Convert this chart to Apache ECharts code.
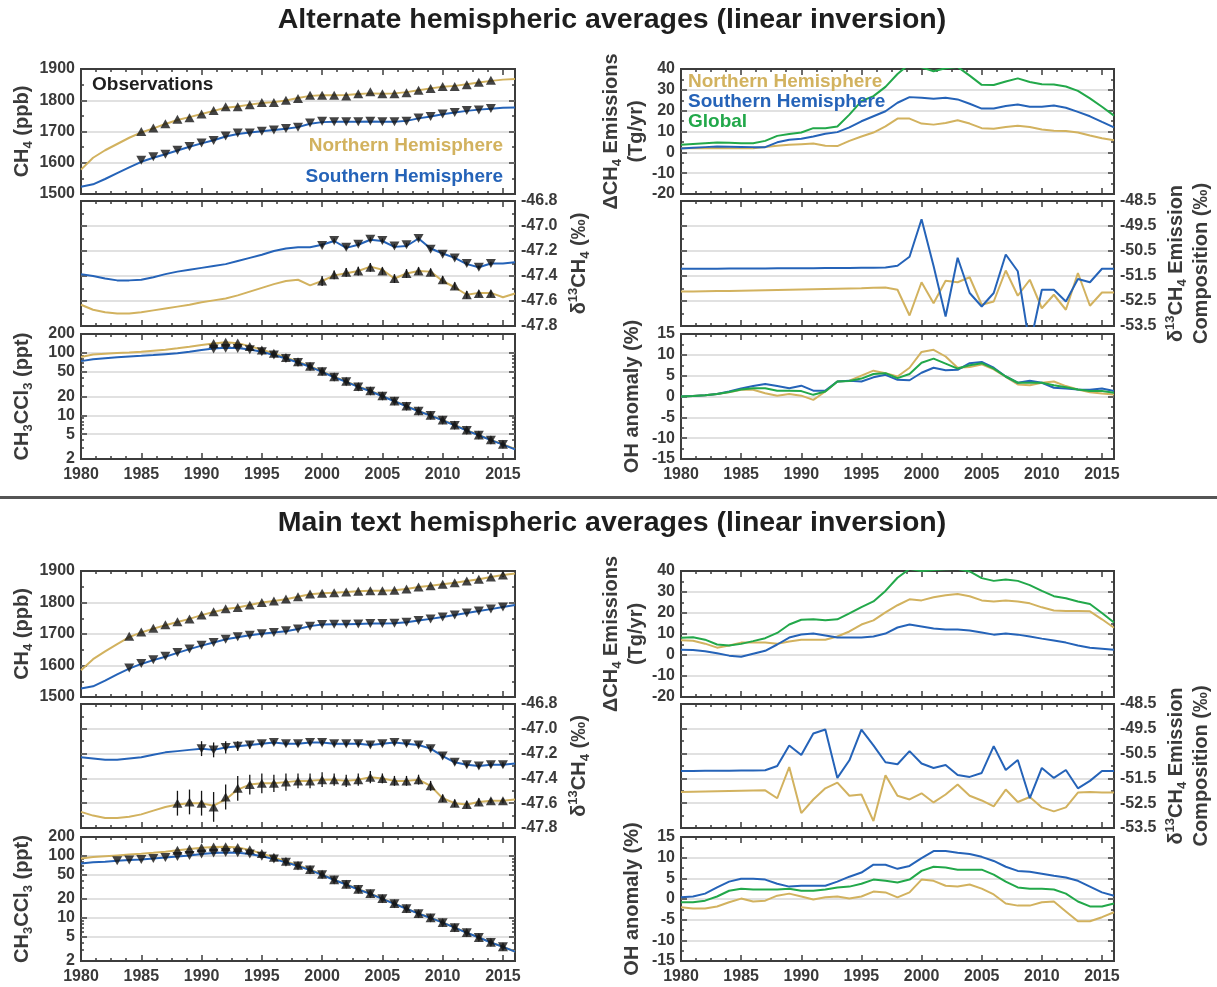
<!DOCTYPE html>
<html>
<head>
<meta charset="utf-8">
<script src="https://cdn.jsdelivr.net/npm/echarts@6/dist/echarts.min.js"></script>
<style>
html,body{margin:0;padding:0;background:#fff}
#chart{width:1217px;height:987px}
</style>
</head>
<body>
<div id="chart"></div>
<script>
// ---------- data ----------
const years = [1980,1981,1982,1983,1984,1985,1986,1987,1988,1989,1990,1991,1992,1993,1994,1995,1996,1997,1998,1999,2000,2001,2002,2003,2004,2005,2006,2007,2008,2009,2010,2011,2012,2013,2014,2015,2016];

// Alternate hemispheric averages
const altCh4NH = [1578,1616,1640,1660,1680,1697,1710,1724,1737,1746,1756,1766,1776,1780,1786,1791,1794,1799,1807,1814,1816,1816,1817,1820,1822,1821,1822,1826,1832,1838,1843,1846,1851,1857,1862,1866,1868];
const altCh4SH = [1523,1531,1548,1567,1585,1603,1616,1627,1639,1651,1662,1672,1684,1692,1697,1701,1705,1709,1714,1725,1730,1731,1731,1731,1732,1731,1731,1734,1742,1748,1755,1761,1766,1770,1773,1776,1777];
const altCh4ObsStart = 1985;
const altCh4NHObs = [1700,1711,1725,1739,1744,1756,1767,1779,1779,1786,1793,1793,1800,1806,1816,1816,1816,1814,1821,1827,1821,1821,1824,1832,1838,1844,1844,1850,1858,1864];
const altCh4SHObs = [1608,1619,1627,1640,1652,1663,1671,1686,1695,1695,1701,1705,1710,1714,1727,1733,1731,1731,1731,1733,1731,1731,1733,1743,1748,1756,1761,1767,1769,1774];

const altD13NH = [-47.63,-47.67,-47.69,-47.70,-47.70,-47.69,-47.675,-47.66,-47.645,-47.63,-47.61,-47.595,-47.58,-47.555,-47.525,-47.495,-47.465,-47.44,-47.43,-47.475,-47.44,-47.395,-47.378,-47.36,-47.325,-47.35,-47.42,-47.38,-47.36,-47.365,-47.44,-47.49,-47.55,-47.535,-47.535,-47.57,-47.54];
const altD13SH = [-47.386,-47.40,-47.42,-47.435,-47.435,-47.43,-47.41,-47.385,-47.365,-47.35,-47.335,-47.32,-47.305,-47.28,-47.255,-47.23,-47.20,-47.18,-47.17,-47.17,-47.15,-47.12,-47.175,-47.15,-47.11,-47.12,-47.167,-47.16,-47.10,-47.18,-47.22,-47.255,-47.305,-47.33,-47.30,-47.30,-47.29];
const altD13ObsStart = 2000;
const altD13NHObs = [-47.44,-47.39,-47.37,-47.36,-47.33,-47.36,-47.42,-47.38,-47.36,-47.37,-47.43,-47.48,-47.55,-47.54,-47.54];
const altD13NHErr = [0.04,0.035,0.035,0.035,0.035,0.03,0.035,0.035,0.03,0.03,0.03,0.03,0.03,0.025,0.025];
const altD13SHObs = [-47.155,-47.115,-47.17,-47.145,-47.105,-47.115,-47.16,-47.15,-47.10,-47.185,-47.225,-47.255,-47.30,-47.33,-47.30];
const altD13SHErr = [0.015,0.015,0.015,0.015,0.015,0.015,0.015,0.015,0.015,0.015,0.015,0.015,0.015,0.015,0.015];

const altMcfNH = [86,94,97,99,101,104,108,112,118,125,133,141,147,142,128,112,98,84.5,72,61,50.5,41.5,35,29,24.7,20.5,17.0,14.1,11.8,10.0,8.4,7.0,5.8,4.85,4.05,3.45,2.9];
const altMcfSH = [73.6,79,82,85,87.5,89.6,92,95,98,104,111,117,120,119,113,104,92,81,70,59.7,49.6,40.7,34.3,28.5,24.3,20.2,16.8,13.9,11.6,9.9,8.3,6.9,5.7,4.8,4.0,3.4,2.85];
const altMcfObsStart = 1991;
const altMcfNHObs = [141,147,143,126,111,98,84.5,72,61,50.5,41.5,35,29,24.7,20.5,17.0,14.1,11.8,10.0,8.4,7.0,5.8,4.85,4.05,3.45];
const altMcfSHObs = [115,118,117,112,104,92,81,70,59.7,49.6,40.7,34.3,28.5,24.3,20.2,16.8,13.9,11.6,9.9,8.3,6.9,5.7,4.8,4.0,3.4];

const altEmisNH = [2.0,2.0,2.0,2.1,2.0,1.9,2.0,2.6,3.2,3.6,3.9,4.2,3.2,3.0,5.5,7.6,9.5,12.5,16.2,16.2,13.8,13.3,14.1,15.4,13.8,11.6,11.3,12.2,12.8,12.2,11.0,10.4,10.2,9.5,8.1,6.8,5.8];
const altEmisSH = [1.8,2.2,2.5,2.8,2.7,2.6,2.5,2.5,4.8,6.0,6.5,7.6,8.9,9.7,12.0,14.9,17.3,19.7,23.8,26.5,26.2,25.7,26.2,25.4,23.3,21.0,21.0,22.2,23.0,21.9,21.9,22.5,21.4,19.4,17.3,14.6,12.0];
const altEmisGL = [3.6,4.0,4.4,4.7,4.6,4.4,4.4,5.5,7.9,8.8,9.5,11.6,11.6,12.4,18.1,24.6,27.0,31.4,37.6,42.5,40.8,38.9,40.4,41.0,36.8,32.4,32.3,34.0,35.5,33.8,32.7,32.6,31.6,29.5,25.9,21.9,17.6];

const altIsoNH = [-52.12,-52.12,-52.11,-52.10,-52.10,-52.09,-52.08,-52.07,-52.06,-52.05,-52.04,-52.03,-52.02,-52.01,-52.00,-51.99,-51.97,-51.96,-52.05,-53.08,-51.75,-52.59,-51.69,-51.75,-51.55,-52.65,-52.52,-51.28,-52.29,-51.65,-52.79,-52.25,-52.85,-51.38,-52.69,-52.16,-52.16];
const altIsoSH = [-51.21,-51.21,-51.21,-51.21,-51.20,-51.20,-51.20,-51.20,-51.19,-51.19,-51.19,-51.19,-51.18,-51.18,-51.18,-51.17,-51.17,-51.16,-51.09,-50.73,-49.23,-51.10,-53.12,-50.77,-52.18,-52.72,-52.18,-50.64,-51.31,-54.30,-52.05,-52.05,-52.52,-51.62,-51.75,-51.21,-51.21];

const altOHNH = [0.0,0.1,0.3,0.6,1.0,1.6,1.6,0.8,0.2,0.6,0.2,-0.8,1.2,3.6,3.8,5.0,6.2,5.6,4.8,6.9,10.7,11.2,9.6,6.9,7.1,7.7,6.5,4.7,2.9,2.7,3.3,3.6,2.5,1.7,1.0,0.7,0.5];
const altOHSH = [0.0,0.1,0.3,0.6,1.2,1.9,2.5,3.0,2.5,2.0,2.6,1.4,1.4,3.6,3.8,3.6,4.6,5.2,4.0,3.9,5.7,6.9,6.3,6.4,8.0,8.3,6.9,4.8,3.3,3.8,3.3,2.1,1.9,1.7,1.6,1.9,1.3];
const altOHGL = [0.0,0.1,0.3,0.6,1.1,1.7,2.0,2.0,1.4,1.4,1.3,0.4,1.2,3.6,3.7,4.3,5.4,5.6,4.4,5.4,8.1,9.1,7.9,6.7,7.5,8.0,6.7,4.8,3.3,3.3,3.3,2.7,2.2,1.7,1.3,1.3,0.9];

// Main text hemispheric averages
const mainCh4NH = [1585,1620,1645,1668,1690,1705,1717,1728,1738,1748,1760,1770,1779,1784,1792,1800,1805,1810,1818,1826,1829,1831,1833,1836,1837,1837,1839,1843,1849,1853,1858,1863,1868,1874,1881,1887,1892];
const mainCh4SH = [1527,1534,1552,1572,1590,1605,1617,1628,1640,1652,1663,1673,1683,1690,1696,1701,1705,1709,1716,1725,1730,1731,1731,1732,1733,1733,1734,1737,1743,1748,1754,1760,1767,1773,1779,1786,1792];
const mainCh4ObsStart = 1984;
const mainCh4NHObs = [1693,1706,1718,1729,1739,1748,1760,1771,1780,1784,1792,1800,1805,1811,1818,1827,1829,1831,1833,1836,1837,1837,1839,1843,1849,1853,1858,1863,1868,1874,1881,1887];
const mainCh4SHObs = [1592,1606,1618,1629,1641,1652,1664,1673,1683,1691,1696,1701,1705,1710,1716,1725,1730,1731,1731,1732,1733,1733,1734,1737,1743,1748,1754,1760,1767,1773,1779,1786];

const mainD13NH = [-47.67,-47.70,-47.72,-47.72,-47.71,-47.69,-47.66,-47.63,-47.61,-47.60,-47.60,-47.62,-47.57,-47.49,-47.45,-47.44,-47.44,-47.43,-47.42,-47.42,-47.41,-47.41,-47.42,-47.41,-47.39,-47.40,-47.42,-47.42,-47.41,-47.46,-47.56,-47.60,-47.61,-47.59,-47.58,-47.58,-47.57];
const mainD13SH = [-47.23,-47.24,-47.25,-47.25,-47.24,-47.23,-47.21,-47.19,-47.18,-47.17,-47.16,-47.17,-47.15,-47.14,-47.13,-47.12,-47.11,-47.12,-47.12,-47.11,-47.11,-47.12,-47.12,-47.12,-47.13,-47.12,-47.11,-47.12,-47.13,-47.16,-47.22,-47.27,-47.29,-47.30,-47.29,-47.29,-47.28];
const mainD13NHObsStart = 1988;
const mainD13NHObs = [-47.60,-47.59,-47.60,-47.63,-47.55,-47.48,-47.45,-47.44,-47.44,-47.43,-47.42,-47.42,-47.41,-47.41,-47.42,-47.41,-47.39,-47.40,-47.42,-47.42,-47.41,-47.46,-47.56,-47.60,-47.61,-47.59,-47.58,-47.58];
const mainD13NHErr = [0.1,0.1,0.1,0.12,0.1,0.1,0.08,0.08,0.07,0.07,0.06,0.06,0.06,0.05,0.05,0.05,0.05,0.04,0.04,0.04,0.04,0.04,0.03,0.03,0.03,0.03,0.02,0.02];
const mainD13SHObsStart = 1990;
const mainD13SHObs = [-47.16,-47.17,-47.15,-47.14,-47.13,-47.12,-47.11,-47.12,-47.12,-47.11,-47.11,-47.12,-47.12,-47.12,-47.13,-47.12,-47.11,-47.12,-47.13,-47.16,-47.22,-47.27,-47.29,-47.30,-47.29,-47.29];
const mainD13SHErr = [0.06,0.06,0.05,0.04,0.03,0.02,0.02,0.02,0.02,0.02,0.02,0.02,0.02,0.02,0.02,0.02,0.02,0.02,0.02,0.02,0.02,0.02,0.02,0.02,0.02,0.02];

const mainMcfNH = [90,95,98,101,104,107,111,116,122,128,134,138,139,135,124,108,94,81,70,60,50,41,34.6,28.8,24.5,20.3,16.9,14.0,11.7,9.95,8.35,6.95,5.75,4.8,4.0,3.4,2.85];
const mainMcfSH = [75,78,80,83,85,87,90,93,97,101,106,110,112,111,106,98,88,78,68,58.5,49,40.5,34.2,28.5,24.2,20.1,16.7,13.9,11.6,9.9,8.3,6.9,5.7,4.78,3.98,3.38,2.83];
const mainMcfNHObsStart = 1988;
const mainMcfNHObs = [122,128,134,138,139,135,124,108,94,81,70,60,50,41,34.6,28.8,24.5,20.3,16.9,14.0,11.7,9.95,8.35,6.95,5.75,4.8,4.0,3.4];
const mainMcfSHObsStart = 1983;
const mainMcfSHObs = [83,85,87,90,93,97,101,106,110,112,111,106,98,88,78,68,58.5,49,40.5,34.2,28.5,24.2,20.1,16.7,13.9,11.6,9.9,8.3,6.9,5.7,4.78,3.98,3.38];

const mainEmisNH = [7.0,6.8,5.4,3.5,4.5,5.9,5.9,5.9,5.4,6.4,7.3,7.3,7.3,8.8,11.2,14.5,16.5,20.3,23.7,26.5,26.0,27.5,28.4,29.0,28.0,26.0,25.5,26.0,25.5,24.6,22.7,21.2,21.0,21.0,20.8,17.0,13.0];
const mainEmisSH = [2.5,2.4,1.8,0.8,-0.3,-0.8,0.6,2.0,5.0,8.3,9.8,10.2,9.3,8.3,8.3,8.3,8.8,10.2,13.1,14.5,13.6,12.6,12.1,12.1,11.7,10.7,9.7,10.2,9.7,8.8,7.8,6.9,5.9,4.5,3.5,3.0,2.5];
const mainEmisGL = [8.2,8.5,7.3,5.0,4.5,5.3,6.6,8.0,10.5,14.5,16.8,17.0,16.5,17.0,19.8,22.8,25.5,30.5,36.8,41.0,40.0,40.5,40.8,41.0,39.8,36.6,35.3,36.0,35.3,33.3,30.5,28.0,27.0,25.5,24.3,20.0,15.5];

const mainIsoNH = [-52.05,-52.04,-52.03,-52.02,-52.01,-52.00,-51.99,-51.98,-52.3,-51.04,-52.9,-52.35,-51.9,-51.67,-52.2,-52.15,-53.22,-51.37,-52.2,-52.35,-52.1,-52.47,-52.15,-51.75,-52.2,-52.39,-52.63,-51.95,-52.45,-52.25,-52.67,-52.83,-52.67,-52.07,-52.05,-52.07,-52.07];
const mainIsoSH = [-51.20,-51.20,-51.19,-51.19,-51.19,-51.18,-51.18,-51.17,-51.0,-50.17,-50.56,-49.69,-49.53,-51.48,-50.77,-49.53,-50.17,-50.85,-50.93,-50.4,-50.9,-51.08,-50.96,-51.36,-51.44,-51.28,-50.2,-51.16,-50.76,-52.3,-51.08,-51.48,-51.16,-51.9,-51.6,-51.2,-51.2];

const mainOHNH = [-2.0,-2.3,-2.3,-1.8,-0.8,0.1,-0.6,-0.4,0.8,1.3,0.6,-0.1,0.4,0.6,0.1,0.6,1.8,1.6,0.4,1.6,4.7,4.4,3.2,3.0,3.5,2.5,1.1,-1.1,-1.6,-1.6,-0.8,-0.6,-3.0,-5.4,-5.4,-4.4,-3.2];
const mainOHSH = [0.4,0.6,1.3,2.8,4.2,4.9,4.9,4.7,3.7,3.0,3.2,3.2,3.2,4.2,5.4,6.4,8.3,8.3,7.3,8.0,9.9,11.6,11.6,11.2,10.9,10.2,9.2,7.8,6.8,6.6,6.1,5.6,5.2,4.4,3.0,1.6,0.8];
const mainOHGL = [-0.8,-0.8,-0.4,0.6,2.0,2.5,2.3,2.3,2.3,2.5,2.0,2.0,2.3,2.8,3.0,3.7,4.7,4.4,4.0,4.7,6.8,7.8,7.6,7.1,7.1,7.1,5.9,4.2,2.8,2.5,2.5,2.3,1.3,-0.6,-1.8,-1.8,-1.1];

// tick labels
const xTickLabels = [1980,1985,1990,1995,2000,2005,2010,2015];
const ch4Ticks = [1500,1600,1700,1800,1900];
const d13Ticks = [-47.8,-47.6,-47.4,-47.2,-47.0,-46.8];
const mcfTicks = [2,5,10,20,50,100,200];
const emisTicks = [-20,-10,0,10,20,30,40];
const isoTicks = [-53.5,-52.5,-51.5,-50.5,-49.5,-48.5];
const ohTicks = [-15,-10,-5,0,5,10,15];

// ---------- styling ----------
const FONT = '"Liberation Sans", Arial, Helvetica, sans-serif';
const INK = '#3a3a3a';
const FRAME = '#3c3c3c';
const GRIDLINE = '#e1e1e1';
const GOLD = '#D2B25F', BLUE = '#2563B8', GREEN = '#22A84A', MARK = '#141414';

const TICK_FONT = {fontSize: 16, fontWeight: 'bold', color: INK, fontFamily: FONT};
const NAME_STYLE = {
  fontSize: 20, fontWeight: 'bold', color: INK, fontFamily: FONT, lineHeight: 25,
  rich: {
    s: {fontSize: 13, fontWeight: 'bold', color: INK, fontFamily: FONT, lineHeight: 15, verticalAlign: 'bottom'},
    u: {fontSize: 13, fontWeight: 'bold', color: INK, fontFamily: FONT, lineHeight: 15, verticalAlign: 'top'}
  }
};

// minor tick positions: four subdivisions between labelled years
const xMinor = [];
for (let i = 0; i < xTickLabels.length; i++) {
  for (let k = 1; k < 4; k++) {
    const v = xTickLabels[i] + k * 1.25;
    if (v < 2016) xMinor.push(v);
  }
}
const midpoints = t => t.slice(1).map((v, i) => (v + t[i]) / 2);

const AX = {
  ch4:  {min: 1500, max: 1900, labels: ch4Ticks, minor: midpoints(ch4Ticks)},
  d13:  {min: -47.8, max: -46.8, labels: d13Ticks, minor: midpoints(d13Ticks), digits: 1},
  mcf:  {type: 'log', min: 2, max: 200, labels: mcfTicks, minor: [3,4,6,7,8,9,30,40,60,70,80,90]},
  emis: {min: -20, max: 40, labels: emisTicks, minor: midpoints(emisTicks)},
  iso:  {min: -53.5, max: -48.5, labels: isoTicks, minor: midpoints(isoTicks), digits: 1},
  oh:   {min: -15, max: 15, labels: ohTicks, minor: midpoints(ohTicks)}
};

const LEFT_COL = {left: 81, width: 434};
const RIGHT_COL = {left: 681, width: 433};
const ROWS = [
  {top: 69, height: 125}, {top: 201, height: 125}, {top: 334, height: 125},
  {top: 571, height: 126}, {top: 704, height: 124}, {top: 837, height: 124}
];

const option = {
  animation: false,
  backgroundColor: '#ffffff',
  textStyle: {fontFamily: FONT},
  grid: [], xAxis: [], yAxis: [], series: [], graphic: []
};

function ticks(vals, len) {
  return {show: true, inside: true, length: len, customValues: vals, lineStyle: {color: FRAME, width: 1.5}};
}

function addPanel(col, row, ax, side, showX, name, nameGap, seriesList) {
  const g = option.grid.length;
  const r = ROWS[row];
  option.grid.push({
    left: col.left, top: r.top, width: col.width, height: r.height,
    show: true, borderColor: FRAME, borderWidth: 2, backgroundColor: '#fff',
    containLabel: false, outerBoundsMode: 'none'
  });
  const xi = option.xAxis.length;
  const xCommon = {
    gridIndex: g, type: 'value', min: 1980, max: 2016,
    axisLine: {show: false, onZero: false}, splitLine: {show: false}, axisLabel: {show: false}
  };
  [['bottom', xTickLabels, 6], ['top', xTickLabels, 6], ['bottom', xMinor, 3], ['top', xMinor, 3]]
    .forEach(([pos, vals, len], k) => {
      const a = Object.assign({}, xCommon, {position: pos, axisTick: ticks(vals, len)});
      if (k === 0 && showX) {
        a.axisLabel = Object.assign({show: true, customValues: xTickLabels, margin: 8,
                                     formatter: v => String(Math.round(v))}, TICK_FONT);
      }
      option.xAxis.push(a);
    });
  const yi = option.yAxis.length;
  const other = side === 'left' ? 'right' : 'left';
  const yCommon = {
    gridIndex: g, type: ax.type || 'value', min: ax.min, max: ax.max,
    axisLine: {show: false, onZero: false}, splitLine: {show: false}, axisLabel: {show: false}
  };
  const inner = ax.labels.slice(1, -1);
  option.yAxis.push(Object.assign({}, yCommon, {
    position: side,
    axisTick: ticks(inner, 6),
    axisLabel: Object.assign({
      show: true, customValues: ax.labels, margin: 6,
      formatter: v => ax.digits ? Number(v).toFixed(ax.digits) : String(Math.round(v * 1000) / 1000)
    }, TICK_FONT),
    splitLine: {show: true, lineStyle: {color: GRIDLINE, width: 2}},
    name: name, nameLocation: 'middle', nameGap: nameGap, nameRotate: 90,
    nameMoveOverlap: false, nameTextStyle: NAME_STYLE
  }));
  option.yAxis.push(Object.assign({}, yCommon, {position: other, axisTick: ticks(inner, 6)}));
  option.yAxis.push(Object.assign({}, yCommon, {position: side, axisTick: ticks(ax.minor, 3)}));
  option.yAxis.push(Object.assign({}, yCommon, {position: other, axisTick: ticks(ax.minor, 3)}));
  seriesList.forEach(s => option.series.push(Object.assign(s, {xAxisIndex: xi, yAxisIndex: yi})));
}

function modelLine(vals, color) {
  return {
    type: 'line', data: years.map((y, i) => [y, vals[i]]), symbol: 'none', silent: true,
    lineStyle: {color: color, width: 2}, z: 2
  };
}
function obsMarks(start, vals, up) {
  return {
    type: 'scatter', data: vals.map((v, i) => [start + i, v]), silent: true,
    symbol: 'triangle', symbolSize: [10, 9], symbolRotate: up ? 0 : 180,
    itemStyle: {color: MARK}, z: 5
  };
}
function errBars(start, vals, errs) {
  return {
    type: 'custom', silent: true, z: 4,
    data: vals.map((v, i) => [start + i, v - errs[i], v + errs[i]]),
    encode: {x: 0, y: [1, 2]},
    renderItem: (params, api) => {
      const a = api.coord([api.value(0), api.value(1)]);
      const b = api.coord([api.value(0), api.value(2)]);
      return {type: 'line', shape: {x1: a[0], y1: a[1], x2: b[0], y2: b[1]},
              style: {stroke: MARK, lineWidth: 1.3}};
    }
  };
}

const CH4_NAME = 'CH{s|4} (ppb)';
const D13_NAME = 'δ{u|13}CH{s|4} (‰)';
const MCF_NAME = 'CH{s|3}CCl{s|3} (ppt)';
const EMIS_NAME = 'ΔCH{s|4} Emissions\n(Tg/yr)';
const ISO_NAME = 'δ{u|13}CH{s|4} Emission\nComposition (‰)';
const OH_NAME = 'OH anomaly (%)';

// ----- upper block: alternate averages -----
addPanel(LEFT_COL, 0, AX.ch4, 'left', false, CH4_NAME, 46, [
  modelLine(altCh4NH, GOLD), modelLine(altCh4SH, BLUE),
  obsMarks(altCh4ObsStart, altCh4NHObs, true), obsMarks(altCh4ObsStart, altCh4SHObs, false)
]);
addPanel(LEFT_COL, 1, AX.d13, 'right', false, D13_NAME, 52, [
  modelLine(altD13NH, GOLD), modelLine(altD13SH, BLUE),
  errBars(altD13ObsStart, altD13NHObs, altD13NHErr), errBars(altD13ObsStart, altD13SHObs, altD13SHErr),
  obsMarks(altD13ObsStart, altD13NHObs, true), obsMarks(altD13ObsStart, altD13SHObs, false)
]);
addPanel(LEFT_COL, 2, AX.mcf, 'left', true, MCF_NAME, 46, [
  modelLine(altMcfNH, GOLD), modelLine(altMcfSH, BLUE),
  obsMarks(altMcfObsStart, altMcfNHObs, true), obsMarks(altMcfObsStart, altMcfSHObs, false)
]);
addPanel(RIGHT_COL, 0, AX.emis, 'left', false, EMIS_NAME, 32, [
  modelLine(altEmisNH, GOLD), modelLine(altEmisSH, BLUE), modelLine(altEmisGL, GREEN)
]);
addPanel(RIGHT_COL, 1, AX.iso, 'right', false, ISO_NAME, 50, [
  modelLine(altIsoNH, GOLD), modelLine(altIsoSH, BLUE)
]);
addPanel(RIGHT_COL, 2, AX.oh, 'left', true, OH_NAME, 36, [
  modelLine(altOHNH, GOLD), modelLine(altOHSH, BLUE), modelLine(altOHGL, GREEN)
]);

// ----- lower block: main text averages -----
addPanel(LEFT_COL, 3, AX.ch4, 'left', false, CH4_NAME, 46, [
  modelLine(mainCh4NH, GOLD), modelLine(mainCh4SH, BLUE),
  obsMarks(mainCh4ObsStart, mainCh4NHObs, true), obsMarks(mainCh4ObsStart, mainCh4SHObs, false)
]);
addPanel(LEFT_COL, 4, AX.d13, 'right', false, D13_NAME, 52, [
  modelLine(mainD13NH, GOLD), modelLine(mainD13SH, BLUE),
  errBars(mainD13NHObsStart, mainD13NHObs, mainD13NHErr), errBars(mainD13SHObsStart, mainD13SHObs, mainD13SHErr),
  obsMarks(mainD13NHObsStart, mainD13NHObs, true), obsMarks(mainD13SHObsStart, mainD13SHObs, false)
]);
addPanel(LEFT_COL, 5, AX.mcf, 'left', true, MCF_NAME, 46, [
  modelLine(mainMcfNH, GOLD), modelLine(mainMcfSH, BLUE),
  obsMarks(mainMcfNHObsStart, mainMcfNHObs, true), obsMarks(mainMcfSHObsStart, mainMcfSHObs, false)
]);
addPanel(RIGHT_COL, 3, AX.emis, 'left', false, EMIS_NAME, 32, [
  modelLine(mainEmisNH, GOLD), modelLine(mainEmisSH, BLUE), modelLine(mainEmisGL, GREEN)
]);
addPanel(RIGHT_COL, 4, AX.iso, 'right', false, ISO_NAME, 50, [
  modelLine(mainIsoNH, GOLD), modelLine(mainIsoSH, BLUE)
]);
addPanel(RIGHT_COL, 5, AX.oh, 'left', true, OH_NAME, 36, [
  modelLine(mainOHNH, GOLD), modelLine(mainOHSH, BLUE), modelLine(mainOHGL, GREEN)
]);

// ----- titles, divider and in-panel labels -----
function label(text, x, y, size, color, align) {
  return {
    type: 'text', x: x, y: y, z: 100, silent: true,
    style: {
      text: text, font: 'bold ' + size + 'px ' + FONT, fill: color,
      align: align, textAlign: align, verticalAlign: 'middle', textVerticalAlign: 'middle'
    }
  };
}
option.graphic = [
  label('Alternate hemispheric averages (linear inversion)', 612, 20, 28.5, '#1e1e1e', 'center'),
  label('Main text hemispheric averages (linear inversion)', 612, 523, 28.5, '#1e1e1e', 'center'),
  {type: 'rect', silent: true, shape: {x: 0, y: 496, width: 1217, height: 3}, style: {fill: '#555555'}},
  label('Observations', 92, 85, 19, '#1e1e1e', 'left'),
  label('Northern Hemisphere', 503, 146, 19, GOLD, 'right'),
  label('Southern Hemisphere', 503, 177, 19, BLUE, 'right'),
  label('Northern Hemisphere', 688, 82, 19, GOLD, 'left'),
  label('Southern Hemisphere', 688, 102, 19, BLUE, 'left'),
  label('Global', 688, 122, 19, GREEN, 'left')
];

const chart = echarts.init(document.getElementById('chart'), null, {renderer: 'canvas'});
chart.setOption(option);
</script>
</body>
</html>
